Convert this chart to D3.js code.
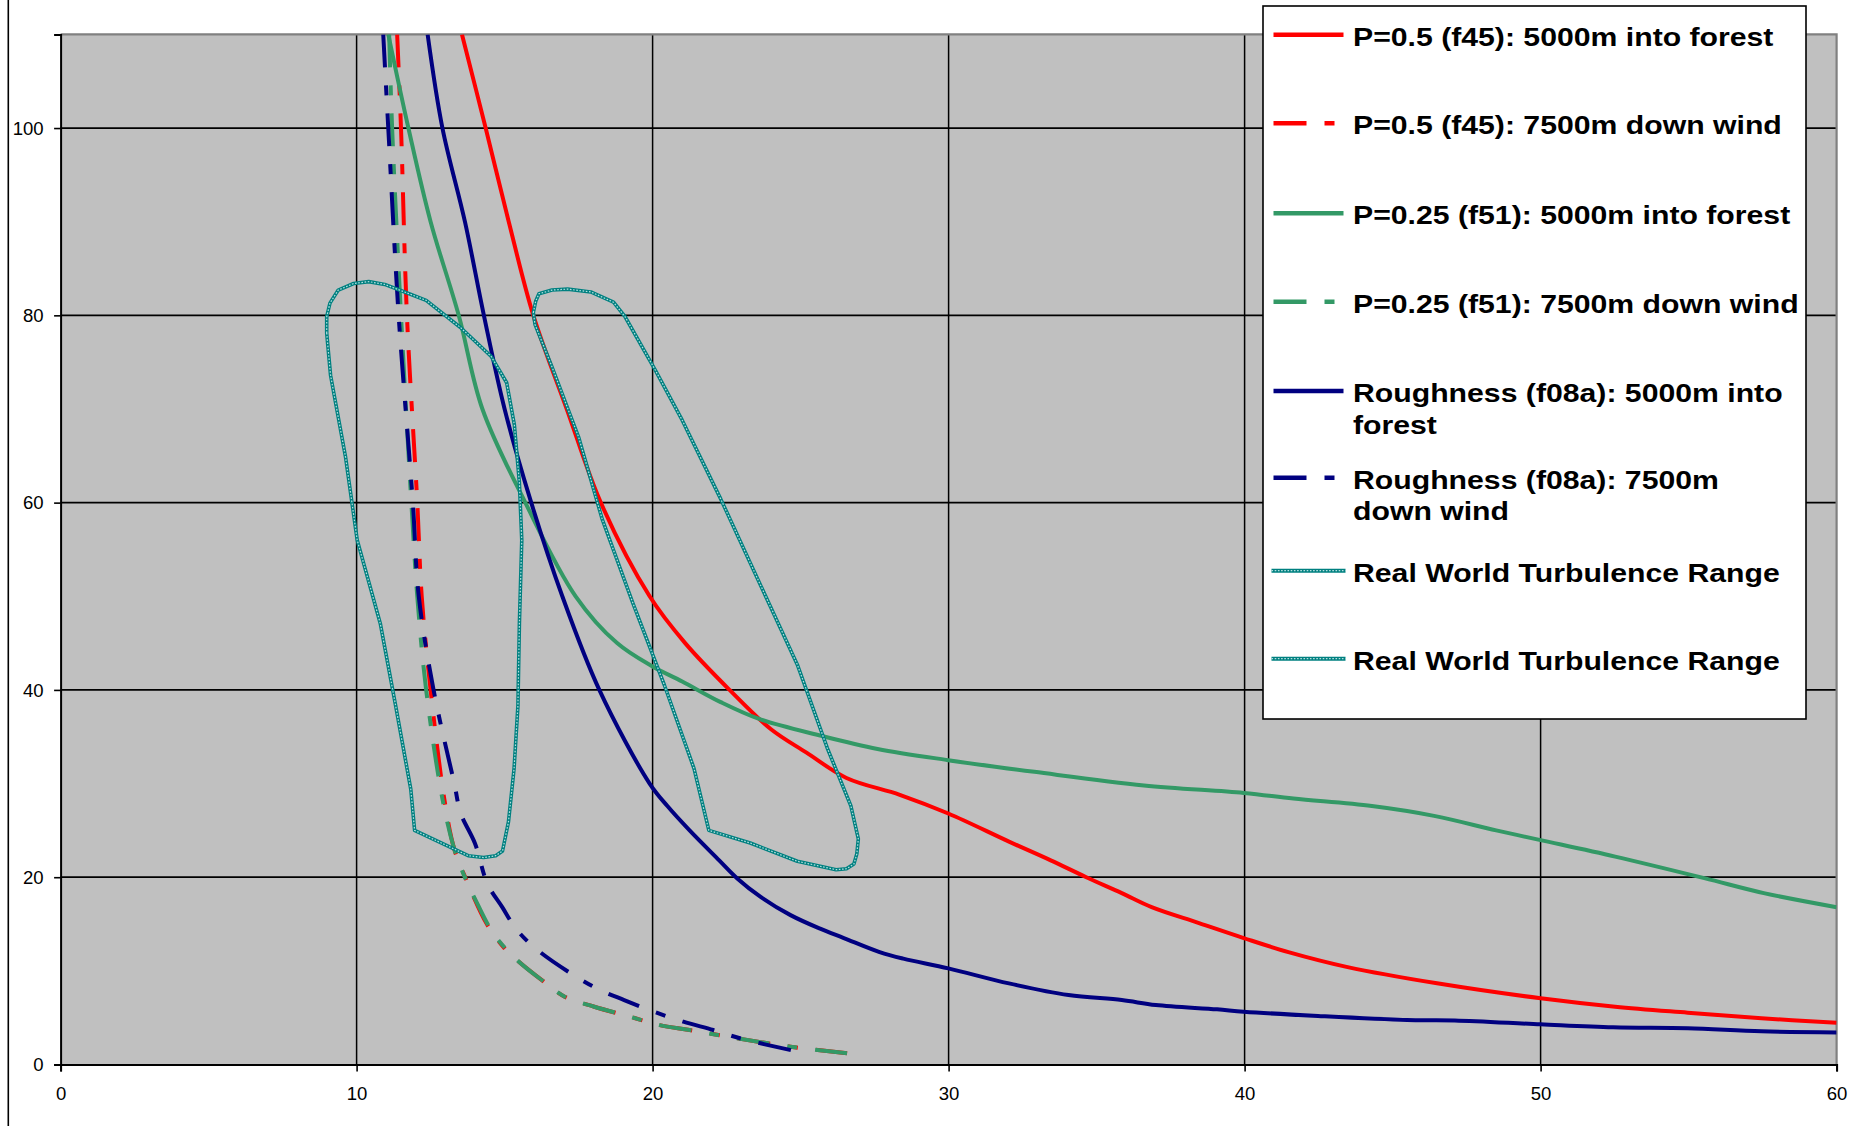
<!DOCTYPE html>
<html>
<head>
<meta charset="utf-8">
<script src="https://cdn.jsdelivr.net/npm/d3@7"></script>
<style>
  html, body { margin: 0; padding: 0; background: #ffffff; }
  svg { display: block; }
</style>
</head>
<body>
<svg id="chart" width="1864" height="1126"></svg>
<script>
// ---------------- DATA ----------------
const xTicks = [0, 10, 20, 30, 40, 50, 60];
const yTicks = [0, 20, 40, 60, 80, 100];

const seriesNames = [
  ["P=0.5 (f45): 5000m into forest"],
  ["P=0.5 (f45): 7500m down wind"],
  ["P=0.25 (f51): 5000m into forest"],
  ["P=0.25 (f51): 7500m down wind"],
  ["Roughness (f08a): 5000m into", "forest"],
  ["Roughness (f08a): 7500m", "down wind"],
  ["Real World Turbulence Range"],
  ["Real World Turbulence Range"]
];

const redForest = [[13.56,110],[14.36,100],[15.14,90],[15.97,80],[17.1,70],[18.25,60],[19.9,50],[21.1,45],[22.6,40],[24.0,35.8],[25.2,33.3],[26.55,30.6],[28.35,28.8],[29.99,26.8],[32.04,23.8],[33.45,21.8],[34.65,20.0],[35.85,18.3],[36.86,16.8],[38.46,15.1],[39.97,13.5],[41.48,12.0],[43.48,10.4],[46.5,8.67],[50.0,7.07],[52.52,6.17],[54.97,5.53],[57.46,4.93],[60,4.46]];
const redDownwind = [[11.37,110],[11.5,100],[11.7,80],[12.05,60],[12.2,50],[12.5,40],[12.97,28.2],[13.3,23],[13.67,20],[14.4,15],[15.0,12.4],[15.42,11.15],[16.33,8.84],[17.03,7.24],[18.03,6.17],[19.24,5.1],[20.24,4.2],[21.25,3.68],[22.85,2.8],[24.66,1.9],[26.57,1.2]];
const greenForest = [[11.07,110],[11.75,100],[12.5,90],[13.45,80],[14.25,70],[15.7,60],[17.4,50],[18.8,45],[20.0,42.5],[21.0,40.9],[22.3,38.7],[23.6,36.9],[25.7,35.1],[27.6,33.7],[29.99,32.5],[32.9,31.25],[36.6,29.8],[39.97,29.0],[41.65,28.4],[44.3,27.6],[46.4,26.55],[48.5,25.0],[50.0,23.96],[52.52,22.2],[55.53,19.9],[57.54,18.3],[60,16.8]];
const greenDownwind = [[11.1,110],[11.2,100],[11.5,80],[11.85,60],[12.05,50],[12.35,40],[12.91,28.2],[13.31,22.9],[13.67,19.9],[14.02,17.55],[14.62,14.0],[15.42,11.15],[16.33,8.84],[17.03,7.24],[18.03,6.17],[19.24,5.1],[20.24,4.2],[21.25,3.68],[22.85,2.8],[24.66,1.9],[26.57,1.2]];
const navyForest = [[12.4,110],[12.9,100],[13.66,90],[14.3,80],[15.0,70],[15.9,60],[16.95,50],[18.2,40],[19.9,30],[20.5,27.6],[21.25,25.0],[22.25,21.8],[22.85,19.9],[23.65,17.9],[24.66,15.95],[25.66,14.5],[26.46,13.5],[27.67,12.0],[28.47,11.3],[29.99,10.27],[32.04,8.66],[34.05,7.42],[35.85,6.88],[37.0,6.35],[39.07,5.89],[39.97,5.64],[42.48,5.18],[45.49,4.75],[47.1,4.71],[50.0,4.29],[52.45,3.97],[54.97,3.86],[57.46,3.54],[60,3.43]];
const navyDownwind = [[10.9,110],[11.07,100],[11.42,80],[11.9,60],[12.1,50],[12.6,40],[13.3,30],[13.52,26.8],[14.0,23.6],[14.42,19.3],[14.92,16.8],[15.42,14.35],[16.12,12.2],[17.33,9.55],[18.23,7.95],[19.04,6.88],[20.04,5.64],[21.04,4.57],[22.05,3.68],[22.95,2.8],[24.76,1.47]];
const turbulenceLeft = [[8.99,78.1],[8.99,79.85],[9.1,81.3],[9.38,82.7],[9.9,83.4],[10.41,83.6],[10.95,83.3],[11.45,82.7],[12.35,81.6],[13.51,78.7],[14.55,75.6],[15.07,72.8],[15.33,68.3],[15.5,62.1],[15.58,56.0],[15.5,47.1],[15.45,38.3],[15.32,31.6],[15.13,25.9],[14.93,22.8],[14.7,22.3],[14.29,22.1],[13.77,22.3],[11.96,25.0],[11.83,29.4],[11.32,38.3],[10.8,47.1],[10.02,56.0],[9.63,64.8],[9.12,73.6]];
const turbulenceRight = [[15.97,80.3],[16.05,81.5],[16.16,82.3],[16.6,82.7],[17.13,82.8],[17.91,82.5],[18.68,81.4],[19.07,79.85],[20.1,74.1],[21.0,68.8],[22.3,60.4],[23.6,51.5],[24.89,42.7],[25.9,33.8],[26.7,27.6],[26.95,24.1],[26.9,22.5],[26.8,21.4],[26.55,20.9],[26.2,20.8],[24.89,21.7],[23.3,23.65],[21.9,25.0],[21.4,31.6],[20.4,40.5],[19.33,49.3],[18.3,58.2],[17.5,67.0],[16.6,74.5],[16.03,79.0]];

const seriesData = [redForest, redDownwind, greenForest, greenDownwind, navyForest, navyDownwind, turbulenceLeft, turbulenceRight];
const seriesColors = ["#ff0000", "#ff0000", "#339966", "#339966", "#000080", "#000080", "#008080", "#008080"];
const seriesKinds = ["solid", "dash", "solid", "dash", "solid", "dash", "turb", "turb"];

// ---------------- LAYOUT ----------------
const W = 1864, H = 1126;
const plot = { left: 60.6, right: 1836.6, top: 34.4, bottom: 1064.5 };
const legendBox = { x: 1263, y: 6, w: 543, h: 713 };
const legendLineY = [34.7, 123.3, 213.3, 301.7, 391, 477.7, 570.7, 658.7];
const DASH = "33,18,10,18";

const svg = d3.select("#chart");
const x = d3.scaleLinear().domain([0, 60]).range([plot.left, plot.right]);
const y = d3.scaleLinear().domain([0, 110]).range([plot.bottom, plot.top]);

// outer frame line on the left
svg.append("line").attr("x1", 8.3).attr("x2", 8.3).attr("y1", 0).attr("y2", H)
  .attr("stroke", "#000").attr("stroke-width", 1.6);

// plot background
svg.append("rect").attr("x", plot.left).attr("y", plot.top)
  .attr("width", plot.right - plot.left).attr("height", plot.bottom - plot.top)
  .attr("fill", "#c0c0c0");

// gridlines
const grid = svg.append("g");
grid.selectAll("line.v").data(xTicks.filter(d => d > 0 && d < 60)).join("line")
  .attr("x1", d => x(d)).attr("x2", d => x(d)).attr("y1", plot.top).attr("y2", plot.bottom)
  .attr("stroke", "#000").attr("stroke-width", 1.5);
grid.selectAll("line.h").data(yTicks.filter(d => d > 0)).join("line")
  .attr("x1", plot.left).attr("x2", plot.right).attr("y1", d => y(d)).attr("y2", d => y(d))
  .attr("stroke", "#000").attr("stroke-width", 1.7);

// plot border (top/right gray)
svg.append("path")
  .attr("d", `M${plot.left},${plot.top}H${plot.right}V${plot.bottom}`)
  .attr("fill", "none").attr("stroke", "#808080").attr("stroke-width", 2.2);

// clip
svg.append("clipPath").attr("id", "clip").append("rect")
  .attr("x", plot.left).attr("y", plot.top)
  .attr("width", plot.right - plot.left).attr("height", plot.bottom - plot.top);

const series = svg.append("g").attr("clip-path", "url(#clip)");
const lineGen = d3.line().x(d => x(d[0])).y(d => y(d[1])).curve(d3.curveCatmullRom.alpha(0.5));
const polyGen = d3.line().x(d => x(d[0])).y(d => y(d[1])).curve(d3.curveLinearClosed);

seriesData.forEach((data, i) => {
  const kind = seriesKinds[i];
  if (kind === "turb") {
    series.append("path").attr("d", polyGen(data)).attr("fill", "none")
      .attr("stroke", seriesColors[i]).attr("stroke-width", 3.6).attr("stroke-linejoin", "round");
    series.append("path").attr("d", polyGen(data)).attr("fill", "none")
      .attr("stroke", "#b5e0e0").attr("stroke-width", 1.2).attr("stroke-dasharray", "1.6,1.6");
  } else {
    series.append("path").attr("d", lineGen(data)).attr("fill", "none")
      .attr("stroke", seriesColors[i]).attr("stroke-width", 4)
      .attr("stroke-dasharray", kind === "dash" ? DASH : null);
  }
});

// axes
const yAxis = d3.axisLeft(y).tickValues(yTicks).tickSize(6.5).tickFormat(d3.format("d"));
const xAxis = d3.axisBottom(x).tickValues(xTicks).tickSize(7).tickFormat(d3.format("d"));

const gy = svg.append("g").attr("transform", `translate(${plot.left},0)`).call(yAxis);
const gx = svg.append("g").attr("transform", `translate(0,${plot.bottom})`).call(xAxis);

[gx, gy].forEach(g => {
  g.select(".domain").attr("stroke", "#000").attr("stroke-width", 2);
  g.selectAll(".tick line").attr("stroke", "#000").attr("stroke-width", 1.6);
  g.selectAll(".tick text").attr("font-family", "'Liberation Sans', Arial, sans-serif")
    .attr("font-size", 17.5).attr("fill", "#000");
});
gy.selectAll(".tick text").attr("x", 0).attr("dy", "0.36em")
  .attr("transform", "translate(-17,0) scale(1.06,1)");
gx.selectAll(".tick text").attr("y", 35.5).attr("dy", null)
  .attr("transform", "scale(1.06,1)");

// legend
const lg = svg.append("g");
lg.append("rect").attr("x", legendBox.x).attr("y", legendBox.y)
  .attr("width", legendBox.w).attr("height", legendBox.h)
  .attr("fill", "#fff").attr("stroke", "#000").attr("stroke-width", 1.6);

seriesNames.forEach((lines, i) => {
  const ly = legendLineY[i];
  const kind = seriesKinds[i];
  if (kind === "turb") {
    lg.append("line").attr("x1", 1271.5).attr("x2", 1345.5).attr("y1", ly).attr("y2", ly)
      .attr("stroke", seriesColors[i]).attr("stroke-width", 4);
    lg.append("line").attr("x1", 1271.5).attr("x2", 1345.5).attr("y1", ly).attr("y2", ly)
      .attr("stroke", "#b5e0e0").attr("stroke-width", 1.3).attr("stroke-dasharray", "1.6,1.6");
  } else {
    lg.append("line").attr("x1", 1273.5).attr("x2", 1343.5).attr("y1", ly).attr("y2", ly)
      .attr("stroke", seriesColors[i]).attr("stroke-width", 4.5)
      .attr("stroke-dasharray", kind === "dash" ? DASH : null);
  }
  lines.forEach((t, k) => {
    lg.append("text")
      .attr("transform", `translate(1353,${ly + 11 + k * 31.7}) scale(1.14,1)`)
      .attr("font-family", "'Liberation Sans', Arial, sans-serif")
      .attr("font-weight", "bold").attr("font-size", 26.5).attr("fill", "#000")
      .text(t);
  });
});
</script>
</body>
</html>
